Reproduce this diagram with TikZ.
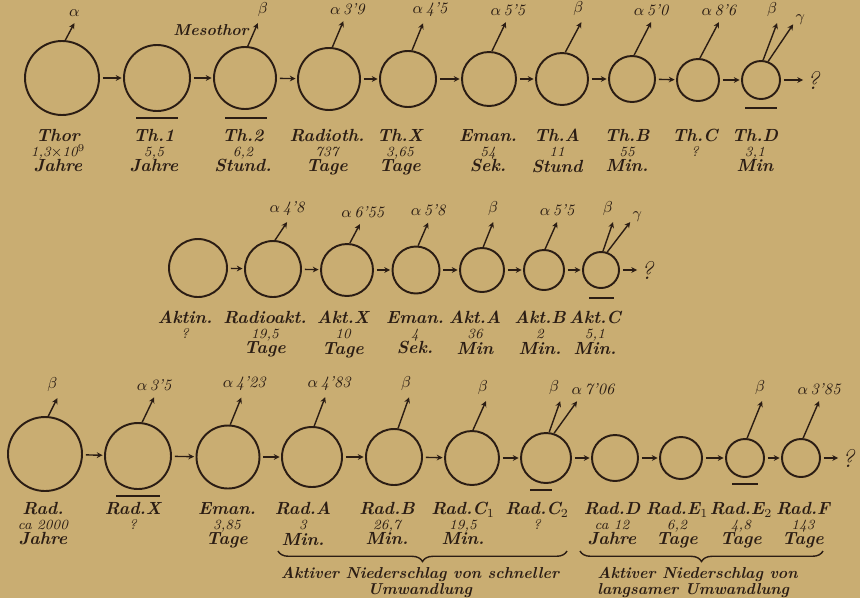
\documentclass[tikz,border=0pt]{standalone}
\usepackage{xcolor}
\usetikzlibrary{arrows.meta,decorations.pathreplacing}
\definecolor{paper}{HTML}{C9AD72}
\definecolor{ink}{HTML}{2B1D14}
\newcommand\decay[3]{#1\\{\mdseries\footnotesize #2}\\#3}

\begin{document}
\begin{tikzpicture}[
  x=0.2mm, y=-0.2mm,
  >={Stealth[length=1.15mm,width=1.15mm]},
  ring/.style={circle,draw=ink,line width=1.1pt,minimum size=0.4mm*#1,inner sep=0pt},
  link/.style={ink,line width=0.8pt,->,shorten <=0.6mm,shorten >=0.3mm},
  emit/.style={ink,line width=0.8pt,->},
  elab/.style={anchor=south,inner sep=0pt,yshift=1.2mm,font=\small\itshape},
  decaylab/.style={anchor=north,align=center,inner sep=0pt,
    font=\fontsize{10}{8.6}\selectfont\bfseries\itshape},
  uline/.style={ink,line width=1.1pt},
  quest/.style={font=\Large\itshape,inner sep=1pt},
  bracelab/.style={anchor=north,inner sep=0pt,font=\fontsize{9}{7.8}\selectfont\bfseries\itshape},
  every node/.style={text=ink}
]
  \fill[paper] (0,0) rectangle (860,598);
  \useasboundingbox (0,0) rectangle (860,598);

  % Thorium
  \node[ring=37] (thor) at (62,78) {};
  \node[ring=33] (th1) at (157,78) {};
  \node[ring=31] (th2) at (245,78) {};
  \node[ring=31] (radioth) at (329,79) {};
  \node[ring=28] (thx) at (408,79) {};
  \node[ring=27] (thEman) at (489,79) {};
  \node[ring=26] (thA) at (562,79) {};
  \node[ring=23] (thB) at (632,79) {};
  \node[ring=21] (thC) at (698,80) {};
  \node[ring=19] (thD) at (761,80) {};
  \node[quest] (thEnd) at (813,80) {?};
  \foreach \a/\b in {thor/th1,th1/th2,th2/radioth,radioth/thx,thx/thEman,
    thEman/thA,thA/thB,thB/thC,thC/thD,thD/thEnd}
    \draw[link] (\a) -- (\b);

  \draw[emit] (thor.85) -- ++(9,-17) node[elab]{$\alpha$};
  \draw[emit] (th2.85) -- ++(10,-23) node[elab,xshift=1mm]{$\beta$};
  \node[anchor=east,inner sep=0pt,font=\small\bfseries\itshape] (meso) at (249,30) {Mesothor};
  \draw[emit] (radioth.84) -- ++(11,-26) node[elab,xshift=0.8mm]{$\alpha$\,3'9};
  \draw[emit] (thx.82) -- ++(11,-27) node[elab,xshift=1.4mm]{$\alpha$\,4'5};
  \draw[emit] (thEman.84) -- ++(14,-29) node[elab,xshift=0.4mm]{$\alpha$\,5'5};
  \draw[emit] (thA.83) -- ++(16,-30) node[elab,xshift=-0.6mm]{$\beta$};
  \draw[emit] (thB.85) -- ++(17,-33) node[elab]{$\alpha$\,5'0};
  \draw[emit] (thC.85) -- ++(19,-36) node[elab]{$\alpha$\,8'6};
  \draw[emit] (thD.84) -- ++(14,-37) node[elab,xshift=-1mm]{$\beta$};
  \draw[emit] (thD.69) -- ++(25,-37) node[anchor=west,inner sep=1pt,yshift=1mm,
    font=\small]{$\gamma$};

  \draw[uline] ([shift={(-21,6)}]th1.south) -- ++(42,0);
  \draw[uline] ([shift={(-20,8)}]th2.south) -- ++(42,0);
  \draw[uline] ([shift={(-16,8)}]thD.south) -- ++(32,0);

  \node[decaylab] (thorL) at (58,129) {\decay{Thor}{1,3$\times$10$^9$}{Jahre}};
  \node[decaylab] (th1L) at (154,129) {\decay{Th.1}{5,5}{Jahre}};
  \node[decaylab] (th2L) at (243,129) {\decay{Th.2}{6,2}{Stund.}};
  \node[decaylab] (radiothL) at (327,129) {\decay{Radioth.}{737}{Tage}};
  \node[decaylab] (thxL) at (400,129) {\decay{Th.X}{3,65}{Tage}};
  \node[decaylab] (thEmanL) at (488,129) {\decay{Eman.}{54}{Sek.}};
  \node[decaylab] (thAL) at (557,129) {\decay{Th.A}{11}{Stund}};
  \node[decaylab] (thBL) at (627,129) {\decay{Th.B}{55}{Min.}};
  \node[decaylab] (thCL) at (695,129) {\decay{Th.C}{?}{}};
  \node[decaylab] (thDL) at (755,129) {\decay{Th.D}{3,1}{Min}};

  % Aktinium
  \node[ring=29] (aktin) at (198,268) {};
  \node[ring=28] (radioakt) at (273,269) {};
  \node[ring=26] (aktX) at (347,270) {};
  \node[ring=23.5] (aktEman) at (416,270) {};
  \node[ring=22] (aktA) at (482,270) {};
  \node[ring=20] (aktB) at (544,270) {};
  \node[ring=18] (aktC) at (601,270) {};
  \node[quest] (aktEnd) at (647,270) {?};
  \foreach \a/\b in {aktin/radioakt,radioakt/aktX,aktX/aktEman,aktEman/aktA,
    aktA/aktB,aktB/aktC,aktC/aktEnd}
    \draw[link] (\a) -- (\b);

  \draw[emit] (radioakt.86) -- ++(12,-18) node[elab]{$\alpha$\,4'8};
  \draw[emit] (aktX.84) -- ++(10,-19) node[elab,xshift=0.6mm]{$\alpha$\,6'55};
  \draw[emit] (aktEman.85) -- ++(10,-23) node[elab]{$\alpha$\,5'8};
  \draw[emit] (aktA.87) -- ++(10,-25) node[elab]{$\beta$};
  \draw[emit] (aktB.87) -- ++(12,-27) node[elab]{$\alpha$\,5'5};
  \draw[emit] (aktC.84) -- ++(10,-29) node[elab,xshift=-1mm]{$\beta$};
  \draw[emit] (aktC.71) -- ++(23,-30) node[anchor=west,inner sep=1pt,yshift=1mm,
    font=\small]{$\gamma$};

  \draw[uline] ([shift={(-12,9)}]aktC.south) -- ++(25,0);

  \node[decaylab] (aktinL) at (185,311) {\decay{Aktin.}{?}{}};
  \node[decaylab] (radioaktL) at (265,311) {\decay{Radioakt.}{19,5}{Tage}};
  \node[decaylab] (aktXL) at (343,311) {\decay{Akt.X}{10}{Tage}};
  \node[decaylab] (aktEmanL) at (415,311) {\decay{Eman.}{4}{Sek.}};
  \node[decaylab] (aktAL) at (475,311) {\decay{Akt.A}{36}{Min}};
  \node[decaylab] (aktBL) at (540,311) {\decay{Akt.B}{2}{Min.}};
  \node[decaylab] (aktCL) at (595,311) {\decay{Akt.C}{5,1}{Min.}};

  % Radium
  \node[ring=37] (rad) at (45,454) {};
  \node[ring=33] (radX) at (138,456) {};
  \node[ring=31.5] (radEman) at (228,457) {};
  \node[ring=30] (radA) at (312,457) {};
  \node[ring=28] (radB) at (394,457) {};
  \node[ring=27] (radCa) at (472,458) {};
  \node[ring=25] (radCb) at (546,458) {};
  \node[ring=23] (radD) at (615,458) {};
  \node[ring=21] (radEa) at (681,458) {};
  \node[ring=19] (radEb) at (745,458) {};
  \node[ring=19] (radF) at (801,458) {};
  \node[quest] (radEnd) at (848,458) {?};
  \foreach \a/\b in {rad/radX,radX/radEman,radEman/radA,radA/radB,radB/radCa,
    radCa/radCb,radCb/radD,radD/radEa,radEa/radEb,radEb/radF,radF/radEnd}
    \draw[link] (\a) -- (\b);

  \draw[emit] (rad.85) -- ++(9,-18) node[elab,xshift=-1mm]{$\beta$};
  \draw[emit] (radX.83) -- ++(12,-25) node[elab]{$\alpha$\,3'5};
  \draw[emit] (radEman.86) -- ++(11,-27) node[elab,xshift=0.6mm]{$\alpha$\,4'23};
  \draw[emit] (radA.86) -- ++(11,-29) node[elab,xshift=0.8mm]{$\alpha$\,4'83};
  \draw[emit] (radB.82) -- ++(11,-31) node[elab,xshift=-0.6mm]{$\beta$};
  \draw[emit] (radCa.88) -- ++(13,-29) node[elab,xshift=-0.6mm]{$\beta$};
  \draw[emit] (radCb.83) -- ++(11,-31) node[elab,xshift=-1.2mm]{$\beta$};
  \draw[emit] (radCb.72) -- ++(23,-32) node[elab,xshift=3.2mm]{$\alpha$\,7'06};
  \draw[emit] (radEb.84) -- ++(15,-37) node[elab,xshift=-0.4mm]{$\beta$};
  \draw[emit] (radF.84) -- ++(16,-37) node[elab]{$\alpha$\,3'85};

  \draw[uline] ([shift={(-22,6)}]radX.south) -- ++(44,0);
  \draw[uline] ([shift={(-16,6)}]radCb.south) -- ++(22,0);
  \draw[uline] ([shift={(-13,6)}]radEb.south) -- ++(26,0);

  \node[decaylab] (radL) at (43,502) {\decay{Rad.}{ca 2000}{Jahre}};
  \node[decaylab] (radXL) at (133,502) {\decay{Rad.X}{?}{}};
  \node[decaylab] (radEmanL) at (227,502) {\decay{Eman.}{3,85}{Tage}};
  \node[decaylab] (radAL) at (303,502) {\decay{Rad.A}{3}{Min.}};
  \node[decaylab] (radBL) at (387,502) {\decay{Rad.B}{26,7}{Min.}};
  \node[decaylab] (radCaL) at (463,502) {\decay{Rad.C$_1$}{19,5}{Min.}};
  \node[decaylab] (radCbL) at (537,502) {\decay{Rad.C$_2$}{?}{}};
  \node[decaylab] (radDL) at (612,502) {\decay{Rad.D}{ca 12}{Jahre}};
  \node[decaylab] (radEaL) at (677,502) {\decay{Rad.E$_1$}{6,2}{Tage}};
  \node[decaylab] (radEbL) at (741,502) {\decay{Rad.E$_2$}{4,8}{Tage}};
  \node[decaylab] (radFL) at (803,502) {\decay{Rad.F}{143}{Tage}};

  \coordinate (fastA) at (278,551);
  \coordinate (fastB) at (567,551);
  \coordinate (slowA) at (580,551);
  \coordinate (slowB) at (823,551);
  \draw[ink,line width=0.8pt,decorate,decoration={brace,mirror,amplitude=6pt}]
    (fastA) -- (fastB);
  \draw[ink,line width=0.8pt,decorate,decoration={brace,mirror,amplitude=6pt}]
    (slowA) -- (slowB);
  \node[bracelab,align=center] (fastT) at (420,567)
    {Aktiver Niederschlag von schneller\\Umwandlung};
  \node[bracelab,anchor=north west,align=left] (slowT) at (597,567)
    {Aktiver Niederschlag von\\langsamer Umwandlung};
\end{tikzpicture}
\end{document}
